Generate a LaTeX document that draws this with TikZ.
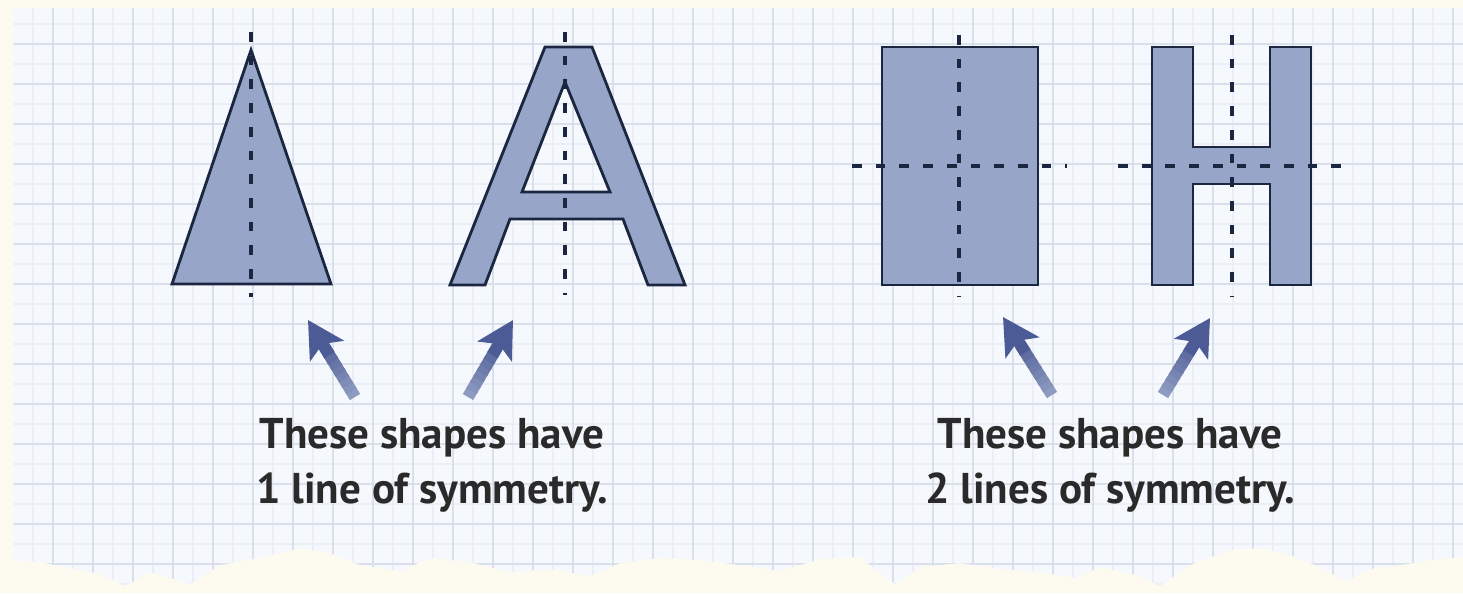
\documentclass[tikz,border=0pt]{standalone}
\usepackage{fontspec}
\setmainfont{PT Sans}
\usepackage{tikz}
\usetikzlibrary{arrows.meta,calc}
\definecolor{paperbg}{HTML}{F5F8FC}
\definecolor{creambg}{HTML}{FDFBF0}
\definecolor{gridmaj}{HTML}{D9E0EA}
\definecolor{gridmin}{HTML}{EBEFF5}
\definecolor{shapeblue}{HTML}{97A5C9}
\definecolor{inkline}{HTML}{1B2640}
\definecolor{arrowhi}{HTML}{4C5B96}
\definecolor{arrowlo}{HTML}{8E9BC0}
\definecolor{textgray}{HTML}{2A2A2A}
\tikzset{
  shapefill/.style  = {fill=shapeblue,draw=inkline,line width=1.6pt},
  symline/.style    = {draw=inkline,line width=2.1pt,dash pattern=on 5.5pt off 8pt},
  arrowshaft/.style = {line width=6.8pt},
  arrowtip/.style   = {-{Stealth[length=7.2mm,width=7.8mm,inset=1.6mm]},line width=6.8pt,arrowhi},
  captext/.style    = {align=center,text=textgray,font=\fontsize{24.5}{31}\selectfont\bfseries,anchor=base}
}
\newcommand{\paperlines}{%
  \foreach \gx in {33,73,...,1453} \draw[gridmin,line width=0.6pt] (\gx,0) -- (\gx,593);
  \foreach \gy in {24,64,...,584}  \draw[gridmin,line width=0.6pt] (0,\gy) -- (1463,\gy);
  \foreach \gx in {53,93,...,1453} \draw[gridmaj,line width=1.1pt] (\gx,0) -- (\gx,593);
  \foreach \gy in {44,84,...,564}  \draw[gridmaj,line width=1.1pt] (0,\gy) -- (1463,\gy);
}
\newcommand{\symarrow}[2]{%
  \foreach \s in {0,...,7}{
    \pgfmathtruncatemacro{\pct}{\s*12}
    \draw[arrowshaft,arrowhi!\pct!arrowlo] ($(#1)!\s/13!(#2)$) -- ($(#1)!{(\s+1.4)/13}!(#2)$);
  }
  \draw[arrowtip] ($(#1)!0.55!(#2)$) -- (#2);
}

\begin{document}
\begin{tikzpicture}[x=0.02cm,y=-0.02cm]
  \useasboundingbox[fill=creambg] (0,0) rectangle (1463,593);
  % sheet of squared paper, torn at the bottom
  \begin{scope}
    \clip (13,8) -- (13,560) -- (40,562) -- (70,568) -- (100,574) -- (125,586) -- (150,572)
      -- (190,584) -- (220,565) -- (260,558) -- (300,548) -- (330,553) -- (360,565)
      -- (400,571) -- (430,558) -- (470,562) -- (510,572) -- (550,569) -- (590,576)
      -- (620,563) -- (660,558) -- (700,560) -- (740,565) -- (780,571) -- (820,559)
      -- (860,557) -- (895,584) -- (920,567) -- (960,563) -- (1000,569) -- (1040,572)
      -- (1075,578) -- (1100,567) -- (1140,576) -- (1160,586) -- (1190,565) -- (1230,550)
      -- (1260,548) -- (1290,555) -- (1320,567) -- (1345,581) -- (1370,569) -- (1400,565)
      -- (1440,559) -- (1463,557) -- (1463,8) -- cycle;
    \fill[paperbg] (0,0) rectangle (1463,593);
    \paperlines
  \end{scope}

  % triangle
  \draw[shapefill] (172,284) -- (251,50) -- (331,284) -- cycle;
  \draw[symline] (251,32) -- (251,297);
  % letter A
  \draw[shapefill,even odd rule] (450,285) -- (545,47) -- (592,47) -- (685,285) -- (648,285)
    -- (623,219) -- (510,219) -- (485,285) -- cycle
    (565,82) -- (610,192) -- (522,192) -- cycle;
  \draw[symline] (565,32) -- (565,295);
  % rectangle
  \draw[shapefill] (882,47) rectangle (1038,285);
  \draw[symline] (959,35) -- (959,297);
  \draw[symline] (852,166) -- (1067,166);
  % letter H
  \draw[shapefill] (1152,47) -- (1193,47) -- (1193,147) -- (1270,147) -- (1270,47)
    -- (1311,47) -- (1311,285) -- (1270,285) -- (1270,184) -- (1193,184) -- (1193,285)
    -- (1152,285) -- cycle;
  \draw[symline] (1232,35) -- (1232,297);
  \draw[symline] (1118,166) -- (1353,166);

  % captions and pointers
  \node[captext] (capone) at (432,503) {These shapes have\\1 line of symmetry.};
  \node[captext] (captwo) at (1110,503) {These shapes have\\2 lines of symmetry.};
  \coordinate (tritail)  at (355,397);  \coordinate (tritip)  at (308,320);
  \coordinate (atail)    at (468,397);  \coordinate (atip)    at (513,320);
  \coordinate (recttail) at (1052,395); \coordinate (recttip) at (1003,317);
  \coordinate (htail)    at (1163,395); \coordinate (htip)    at (1210,318);
  \symarrow{tritail}{tritip}
  \symarrow{atail}{atip}
  \symarrow{recttail}{recttip}
  \symarrow{htail}{htip}
\end{tikzpicture}
\end{document}
